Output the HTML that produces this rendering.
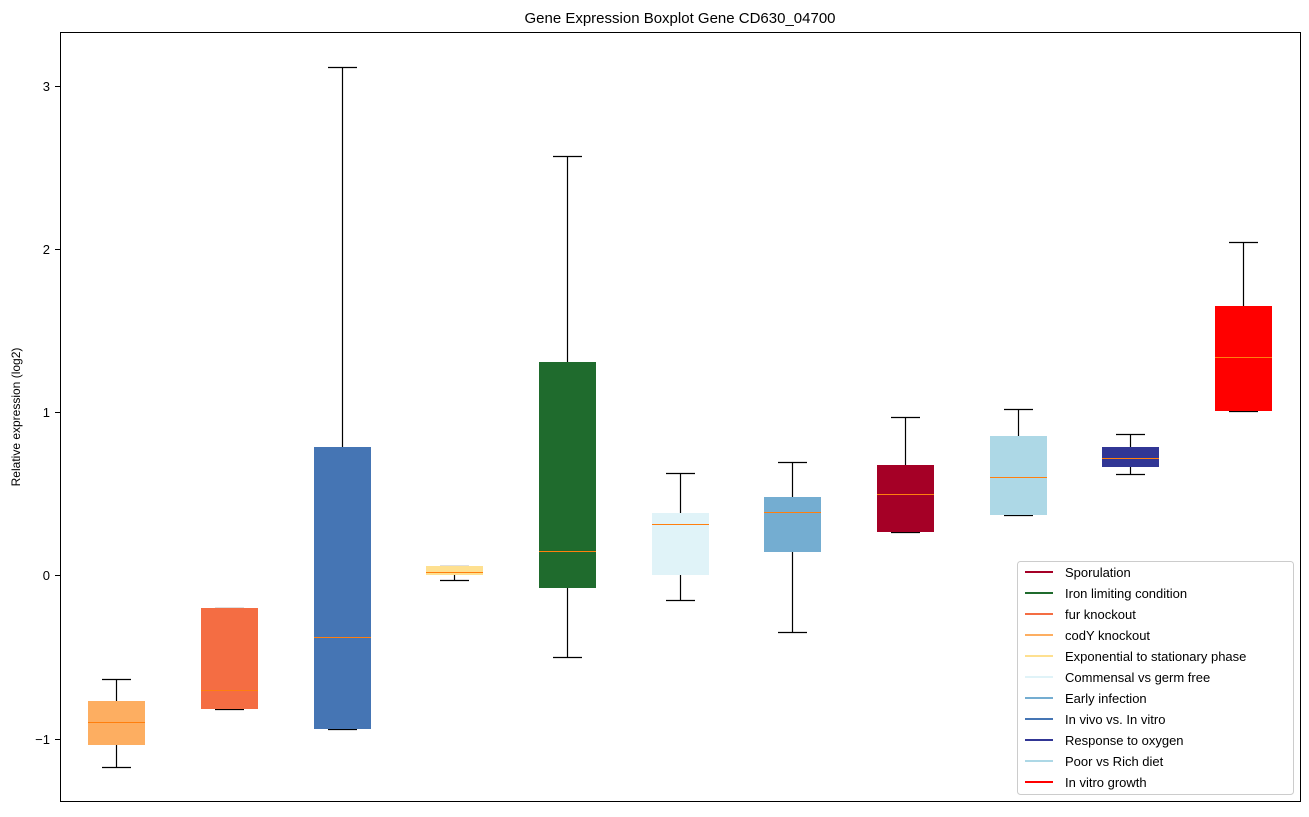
<!DOCTYPE html>
<html><head><style>body{margin:0;background:#fff}</style></head><body>
<svg width="1309" height="812" xmlns="http://www.w3.org/2000/svg" font-family="Liberation Sans, DejaVu Sans, sans-serif">
<rect width="1309" height="812" fill="#fff"/>
<text x="680" y="23" font-size="15" text-anchor="middle">Gene Expression Boxplot Gene CD630_04700</text>
<text transform="translate(20,417) rotate(-90)" font-size="12" text-anchor="middle">Relative expression (log2)</text>
<g font-size="13" text-anchor="end">
<line x1="55" y1="86.5" x2="60" y2="86.5" stroke="#000"/><text x="50" y="91">3</text>
<line x1="55" y1="249.5" x2="60" y2="249.5" stroke="#000"/><text x="50" y="254">2</text>
<line x1="55" y1="412.5" x2="60" y2="412.5" stroke="#000"/><text x="50" y="417">1</text>
<line x1="55" y1="575.5" x2="60" y2="575.5" stroke="#000"/><text x="50" y="580">0</text>
<line x1="55" y1="739.5" x2="60" y2="739.5" stroke="#000"/><text x="50" y="744">−1</text>
</g>
<g stroke="#000" stroke-width="1.2">
<line x1="116.5" y1="679.5" x2="116.5" y2="767.5"/><line x1="102" y1="679.5" x2="131" y2="679.5"/><line x1="102" y1="767.5" x2="131" y2="767.5"/>
<line x1="229.5" y1="608.5" x2="229.5" y2="709.5"/><line x1="215" y1="608.5" x2="244" y2="608.5"/><line x1="215" y1="709.5" x2="244" y2="709.5"/>
<line x1="342.5" y1="67.5" x2="342.5" y2="729.5"/><line x1="328" y1="67.5" x2="357" y2="67.5"/><line x1="328" y1="729.5" x2="357" y2="729.5"/>
<line x1="454.5" y1="566.5" x2="454.5" y2="580.5"/><line x1="440" y1="566.5" x2="469" y2="566.5"/><line x1="440" y1="580.5" x2="469" y2="580.5"/>
<line x1="567.5" y1="156.5" x2="567.5" y2="657.5"/><line x1="553" y1="156.5" x2="582" y2="156.5"/><line x1="553" y1="657.5" x2="582" y2="657.5"/>
<line x1="680.5" y1="473.5" x2="680.5" y2="600.5"/><line x1="666" y1="473.5" x2="695" y2="473.5"/><line x1="666" y1="600.5" x2="695" y2="600.5"/>
<line x1="792.5" y1="462.5" x2="792.5" y2="632.5"/><line x1="778" y1="462.5" x2="807" y2="462.5"/><line x1="778" y1="632.5" x2="807" y2="632.5"/>
<line x1="905.5" y1="417.5" x2="905.5" y2="532.5"/><line x1="891" y1="417.5" x2="920" y2="417.5"/><line x1="891" y1="532.5" x2="920" y2="532.5"/>
<line x1="1018.5" y1="409.5" x2="1018.5" y2="515.5"/><line x1="1004" y1="409.5" x2="1033" y2="409.5"/><line x1="1004" y1="515.5" x2="1033" y2="515.5"/>
<line x1="1130.5" y1="434.5" x2="1130.5" y2="474.5"/><line x1="1116" y1="434.5" x2="1145" y2="434.5"/><line x1="1116" y1="474.5" x2="1145" y2="474.5"/>
<line x1="1243.5" y1="242.5" x2="1243.5" y2="411.5"/><line x1="1229" y1="242.5" x2="1258" y2="242.5"/><line x1="1229" y1="411.5" x2="1258" y2="411.5"/>
</g>
<g>
<rect x="88" y="701" width="57" height="44" fill="#fdae61"/>
<rect x="201" y="608" width="57" height="101" fill="#f46d43"/>
<rect x="314" y="447" width="57" height="282" fill="#4575b4"/>
<rect x="426" y="566" width="57" height="9" fill="#fee090"/>
<rect x="539" y="362" width="57" height="226" fill="#1f6b2d"/>
<rect x="652" y="513" width="57" height="62" fill="#e0f3f8"/>
<rect x="764" y="497" width="57" height="55" fill="#74add1"/>
<rect x="877" y="465" width="57" height="67" fill="#a50026"/>
<rect x="990" y="436" width="57" height="79" fill="#add8e6"/>
<rect x="1102" y="447" width="57" height="20" fill="#313695"/>
<rect x="1215" y="306" width="57" height="105" fill="#ff0000"/>
</g>
<g stroke="#ff7f0e" stroke-width="1">
<line x1="88" y1="722.5" x2="145" y2="722.5"/>
<line x1="201" y1="690.5" x2="258" y2="690.5"/>
<line x1="314" y1="637.5" x2="371" y2="637.5"/>
<line x1="426" y1="572.5" x2="483" y2="572.5"/>
<line x1="539" y1="551.5" x2="596" y2="551.5"/>
<line x1="652" y1="524.5" x2="709" y2="524.5"/>
<line x1="764" y1="512.5" x2="821" y2="512.5"/>
<line x1="877" y1="494.5" x2="934" y2="494.5"/>
<line x1="990" y1="477.5" x2="1047" y2="477.5"/>
<line x1="1102" y1="458.5" x2="1159" y2="458.5"/>
<line x1="1215" y1="357.5" x2="1272" y2="357.5"/>
</g>
<rect x="60.5" y="32.5" width="1240" height="769" fill="none" stroke="#000"/>
<rect x="1017.5" y="561.5" width="276" height="233" rx="3" fill="#fff" fill-opacity="0.85" stroke="#ccc"/>
<g font-size="13" stroke-width="2">
<line x1="1025" y1="572" x2="1053" y2="572" stroke="#a50026"/><text x="1065" y="577">Sporulation</text>
<line x1="1025" y1="593" x2="1053" y2="593" stroke="#1f6b2d"/><text x="1065" y="598">Iron limiting condition</text>
<line x1="1025" y1="614" x2="1053" y2="614" stroke="#f46d43"/><text x="1065" y="619">fur knockout</text>
<line x1="1025" y1="635" x2="1053" y2="635" stroke="#fdae61"/><text x="1065" y="640">codY knockout</text>
<line x1="1025" y1="656" x2="1053" y2="656" stroke="#fee090"/><text x="1065" y="661">Exponential to stationary phase</text>
<line x1="1025" y1="677" x2="1053" y2="677" stroke="#e0f3f8"/><text x="1065" y="682">Commensal vs germ free</text>
<line x1="1025" y1="698" x2="1053" y2="698" stroke="#74add1"/><text x="1065" y="703">Early infection</text>
<line x1="1025" y1="719" x2="1053" y2="719" stroke="#4575b4"/><text x="1065" y="724">In vivo vs. In vitro</text>
<line x1="1025" y1="740" x2="1053" y2="740" stroke="#313695"/><text x="1065" y="745">Response to oxygen</text>
<line x1="1025" y1="761" x2="1053" y2="761" stroke="#add8e6"/><text x="1065" y="766">Poor vs Rich diet</text>
<line x1="1025" y1="782" x2="1053" y2="782" stroke="#ff0000"/><text x="1065" y="787">In vitro growth</text>
</g>
</svg>
</body></html>
